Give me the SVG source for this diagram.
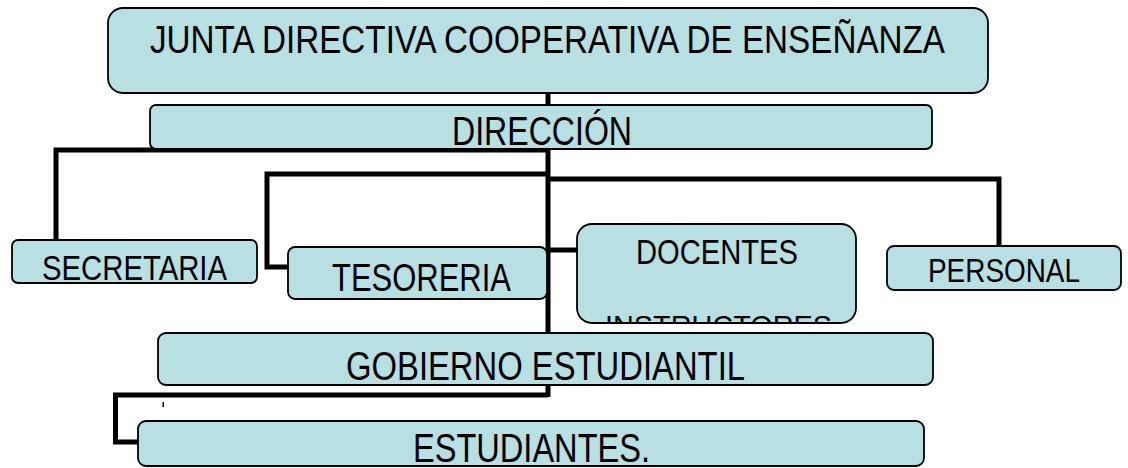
<svg xmlns="http://www.w3.org/2000/svg" width="1128" height="468" viewBox="0 0 1128 468">
<style>
.box{fill:#B8DFE2;stroke:#000;stroke-width:1.8}
.con{fill:none;stroke:#000;stroke-width:5}
text{font-family:"Liberation Sans Narrow","Liberation Sans",Arial,sans-serif;fill:#000}
</style>
<defs>
<clipPath id="docClip"><rect x="578" y="225" width="278" height="97" rx="14"/></clipPath>
</defs>
<rect width="1128" height="468" fill="#fff"/>
<g id="connectors">
<path class="con" d="M548,93 V397"/>
<path class="con" d="M548,150 H56 V240"/>
<path class="con" d="M548,174 H267 V267 H288"/>
<path class="con" d="M548,179 H999 V246"/>
<path class="con" d="M548,250 H577"/>
<path class="con" d="M548,395 H115.5 V442 H138"/>
<rect x="162.5" y="402" width="1.5" height="5" fill="#000"/>
</g>
<g id="junta">
<rect class="box" x="108" y="8" width="880" height="85" rx="15"/>
<text x="150" y="53" font-size="39" textLength="795" lengthAdjust="spacingAndGlyphs">JUNTA DIRECTIVA COOPERATIVA DE ENSEÑANZA</text>
</g>
<g id="direccion">
<rect class="box" x="150" y="105" width="782" height="44" rx="6"/>
<text x="452" y="145" font-size="40" textLength="180" lengthAdjust="spacingAndGlyphs">DIRECCIÓN</text>
</g>
<g id="secretaria">
<rect class="box" x="12" y="240" width="245" height="43" rx="6"/>
<text x="42" y="280" font-size="35" textLength="185" lengthAdjust="spacingAndGlyphs">SECRETARIA</text>
</g>
<g id="tesoreria">
<rect class="box" x="288" y="247" width="259" height="52" rx="7"/>
<text x="332" y="291" font-size="38" textLength="179" lengthAdjust="spacingAndGlyphs">TESORERIA</text>
</g>
<g id="docentes">
<rect class="box" x="577" y="224" width="279" height="99" rx="15"/>
<text x="636" y="264" font-size="35" textLength="162" lengthAdjust="spacingAndGlyphs">DOCENTES</text>
<text x="605" y="336" font-size="30" textLength="227" lengthAdjust="spacingAndGlyphs" clip-path="url(#docClip)">INSTRUCTORES</text>
</g>
<g id="personal">
<rect class="box" x="887" y="246" width="234" height="44" rx="7"/>
<text x="928" y="282" font-size="34" textLength="152" lengthAdjust="spacingAndGlyphs">PERSONAL</text>
</g>
<g id="gobierno">
<rect class="box" x="158" y="333" width="775" height="52" rx="8"/>
<text x="346" y="380" font-size="40" textLength="399" lengthAdjust="spacingAndGlyphs">GOBIERNO ESTUDIANTIL</text>
</g>
<g id="estudiantes">
<rect class="box" x="138" y="421" width="786" height="45" rx="8"/>
<text x="413" y="462" font-size="40" textLength="237" lengthAdjust="spacingAndGlyphs">ESTUDIANTES.</text>
</g>
</svg>
